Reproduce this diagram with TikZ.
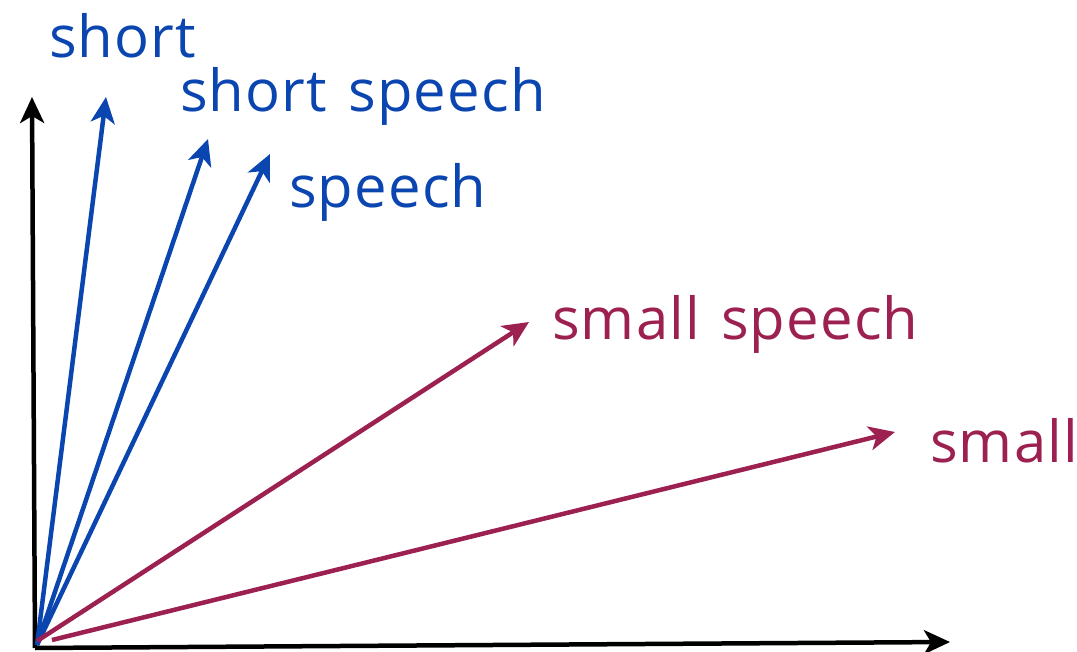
\documentclass[tikz,border=0pt]{standalone}
\usepackage{fontspec}
\setmainfont[LetterSpace=2,WordSpace={1.3}]{Open Sans}
\usetikzlibrary{arrows.meta}
\definecolor{vblue}{HTML}{0B45B0}
\definecolor{vred}{HTML}{9C2050}
\tikzset{
  vec/.style={line width=4.5pt,-{Stealth[length=26pt,width=24pt,inset=7pt]}},
  lbl/.style={anchor=base west,inner sep=0pt,font=\fontsize{58}{70}\selectfont},
}
\begin{document}
\begin{tikzpicture}[x=1pt,y=-1pt]
\useasboundingbox (0,0) rectangle (1077,652);
% coordinates
\coordinate (o) at (35,648);
\coordinate (ytip) at (32,97);
\coordinate (xtip) at (950,642);
\coordinate (ob) at (37,645);
\coordinate (or1) at (37,641);
\coordinate (or2) at (52,640);
\coordinate (t1) at (106,97);
\coordinate (t2) at (208,139);
\coordinate (t3) at (270,154);
\coordinate (t4) at (529,322);
\coordinate (t5) at (895,432);
% axes
\draw[vec,black] (o) -- (ytip);
\draw[vec,black] (o) -- (xtip);
% blue vectors
\draw[vec,vblue] (ob) -- (t1);
\draw[vec,vblue] (ob) -- (t2);
\draw[vec,vblue] (ob) -- (t3);
% red vectors
\draw[vec,vred] (or1) -- (t4);
\draw[vec,vred] (or2) -- (t5);
% labels
\node[lbl,text=vblue] (l1) at (49,58) {short};
\node[lbl,text=vblue] (l2) at (180,112) {short speech};
\node[lbl,text=vblue] (l3) at (289,208) {speech};
\node[lbl,text=vred] (l4) at (552,340) {small speech};
\node[lbl,text=vred] (l5) at (930,462) {small};
\end{tikzpicture}
\end{document}
